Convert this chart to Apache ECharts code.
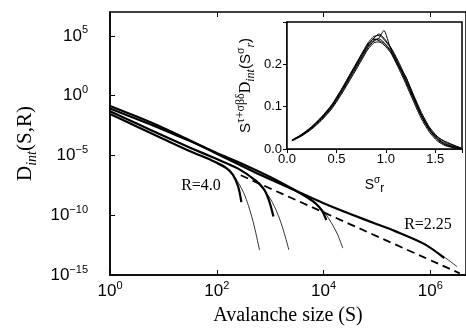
<!DOCTYPE html>
<html><head><meta charset="utf-8">
<script src="https://cdn.jsdelivr.net/npm/echarts@6/dist/echarts.min.js"></script>
<style>html,body{margin:0;padding:0;background:#fff}#c{width:466px;height:331px}</style>
</head><body><div id="c"></div>
<script>
// ---- main plot: values, as log10 exponents ----
// R = 4.0 (data, thick) and its scaling fit (thin)
const r40_logS = [0, 0.5, 1, 1.5, 1.9, 2.15, 2.3, 2.4, 2.46];
const r40_logD = [-1.53, -2.58, -3.62, -4.65, -5.4, -5.95, -6.6, -7.6, -8.9];
const r40fit_logS = [2.0, 2.2, 2.35, 2.5, 2.6, 2.7, 2.8];
const r40fit_logD = [-5.7, -6.2, -6.9, -8.1, -9.3, -10.9, -12.9];
// R = 3.2
const r32_logS = [0, 0.5, 1, 1.5, 2, 2.4, 2.73, 2.88, 2.98, 3.06];
const r32_logD = [-1.31, -2.33, -3.35, -4.35, -5.3, -6.1, -7.1, -7.8, -8.8, -10.1];
const r32fit_logS = [2.6, 2.8, 3.0, 3.15, 3.25, 3.35];
const r32fit_logD = [-6.7, -7.5, -8.6, -10.0, -11.3, -12.9];
// R = 2.6
const r26_logS = [0, 0.5, 1, 1.5, 2, 2.5, 3, 3.5, 3.85, 3.98, 4.05];
const r26_logD = [-1.08, -1.95, -2.85, -3.8, -4.8, -5.75, -6.8, -8.0, -9.0, -9.7, -10.4];
const r26fit_logS = [3.7, 3.95, 4.1, 4.25, 4.36];
const r26fit_logD = [-8.5, -9.4, -10.3, -11.5, -12.75];
// R = 2.25
const r225_logS = [0, 0.5, 1, 1.5, 2, 2.5, 3, 3.5, 4, 4.5, 5, 5.34, 5.89, 6.26];
const r225_logD = [-0.86, -1.75, -2.7, -3.75, -4.85, -5.95, -7.0, -8.0, -9.0, -9.9, -10.75, -11.33, -12.42, -13.58];
const r225fit_logS = [5.89, 6.2, 6.5];
const r225fit_logD = [-12.42, -13.3, -14.3];
// power law (dashed)
const power_logS = [2.45, 6.55];
const power_logD = [-6.66, -14.86];

// ---- inset: scaling collapse ----
const insetX = [0.05, 0.15, 0.25, 0.35, 0.45, 0.55, 0.65, 0.75, 0.82, 0.88, 0.93, 0.98, 1.05, 1.12, 1.2, 1.28, 1.36, 1.44, 1.52, 1.6, 1.7, 1.76];
const insetY1 = [0.020, 0.033, 0.050, 0.072, 0.099, 0.135, 0.175, 0.215, 0.243, 0.258, 0.260, 0.252, 0.232, 0.200, 0.160, 0.117, 0.076, 0.044, 0.022, 0.010, 0.003, 0.001];
const insetY2 = [0.021, 0.035, 0.053, 0.076, 0.104, 0.141, 0.182, 0.223, 0.251, 0.266, 0.268, 0.259, 0.238, 0.206, 0.166, 0.123, 0.082, 0.049, 0.026, 0.013, 0.005, 0.002];
const insetY3 = [0.019, 0.031, 0.047, 0.068, 0.094, 0.129, 0.168, 0.208, 0.236, 0.251, 0.253, 0.246, 0.227, 0.195, 0.155, 0.112, 0.071, 0.040, 0.019, 0.008, 0.002, 0.000];
const insetY4 = [0.020, 0.034, 0.051, 0.074, 0.101, 0.138, 0.178, 0.219, 0.248, 0.262, 0.272, 0.262, 0.240, 0.210, 0.170, 0.128, 0.086, 0.052, 0.030, 0.016, 0.007, 0.003];
const insetY5 = [0.020, 0.032, 0.049, 0.070, 0.097, 0.132, 0.172, 0.212, 0.240, 0.255, 0.262, 0.280, 0.235, 0.203, 0.162, 0.120, 0.079, 0.046, 0.024, 0.011, 0.004, 0.001];
const insetY6 = [0.021, 0.034, 0.052, 0.075, 0.102, 0.139, 0.180, 0.220, 0.246, 0.260, 0.256, 0.250, 0.230, 0.198, 0.172, 0.125, 0.080, 0.047, 0.028, 0.018, 0.008, 0.002];

function pts(ls, ld) { return ls.map((s, i) => [Math.pow(10, s), Math.pow(10, ld[i])]); }
function ipts(ys) { return insetX.map((x, i) => [x, ys[i]]); }

const sans = 'Liberation Sans';
const serif = 'Liberation Serif';

function powLabel(v) {
  const e = Math.round(Math.log10(v));
  const s = e < 0 ? '\u2212' + Math.abs(e) : String(e);
  return '{b|10}{s|' + s + '}';
}
const powRich = {
  b: { fontFamily: sans, fontSize: 17, lineHeight: 22, color: '#000' },
  s: { fontFamily: sans, fontSize: 11, lineHeight: 11, verticalAlign: 'top', color: '#000' }
};

const chart = echarts.init(document.getElementById('c'), null, { renderer: 'canvas' });

const thick = { color: '#000', width: 2.2 };
const thin = { color: '#000', width: 0.8 };
function line(name, data, style, xi, yi) {
  return { name, type: 'line', data, xAxisIndex: xi || 0, yAxisIndex: yi || 0, showSymbol: false, symbol: 'none', lineStyle: style, smooth: 0.3, animation: false, z: 3 };
}

const option = {
  backgroundColor: '#fff',
  animation: false,
  grid: [
    { left: 110, top: 12, right: -6, bottom: 54, show: true, borderColor: '#000', borderWidth: 1.5, backgroundColor: 'transparent' },
    { left: 287, top: 22, right: 4, bottom: 182, show: true, borderColor: '#000', borderWidth: 1.5, backgroundColor: '#fff', z: 5 }
  ],
  xAxis: [
    { gridIndex: 0, type: 'log', logBase: 100, min: 1, max: Math.pow(10, 6.667), position: 'bottom',
      axisLine: { lineStyle: { color: '#000', width: 1.5 } },
      axisTick: { inside: true, length: 5, lineStyle: { color: '#000', width: 1 } },
      minorTick: { show: false }, splitLine: { show: false },
      axisLabel: { formatter: powLabel, rich: powRich, margin: 5, showMaxLabel: false },
      name: 'Avalanche size (S)', nameLocation: 'middle', nameGap: 31,
      nameTextStyle: { fontFamily: serif, fontSize: 20, color: '#000' } },
    { gridIndex: 0, type: 'log', logBase: 100, min: 1, max: Math.pow(10, 6.667), position: 'top',
      axisLine: { show: false },
      axisTick: { inside: true, length: 5, lineStyle: { color: '#000', width: 1 } },
      axisLabel: { show: false }, splitLine: { show: false } },
    { gridIndex: 1, type: 'value', min: 0, max: 1.77, interval: 0.5, position: 'bottom',
      axisLine: { lineStyle: { color: '#000', width: 1.5 } },
      axisTick: { inside: true, length: 4, lineStyle: { color: '#000', width: 1 } },
      splitLine: { show: false },
      axisLabel: { formatter: v => v.toFixed(1), fontFamily: sans, fontSize: 13, color: '#000', margin: 4, showMaxLabel: false },
      name: '{s|S}{sup|\u03c3}{sub|r}', nameLocation: 'middle', nameGap: 26,
      nameTextStyle: { rich: {
        s: { fontFamily: sans, fontSize: 14, lineHeight: 20, color: '#000' },
        sup: { fontFamily: sans, fontSize: 10, lineHeight: 10, verticalAlign: 'top', color: '#000' },
        sub: { fontFamily: sans, fontSize: 12, lineHeight: 12, verticalAlign: 'bottom', color: '#000' } } } },
    { gridIndex: 1, type: 'value', min: 0, max: 1.77, interval: 0.5, position: 'top',
      axisLine: { show: false }, axisTick: { inside: true, length: 4, lineStyle: { color: '#000' } },
      axisLabel: { show: false }, splitLine: { show: false } }
  ],
  yAxis: [
    { gridIndex: 0, type: 'log', logBase: 100000, min: 1e-15, max: 1e7, position: 'left',
      axisLine: { lineStyle: { color: '#000', width: 1.5 } },
      axisTick: { inside: true, length: 5, lineStyle: { color: '#000', width: 1 } },
      minorTick: { show: false }, splitLine: { show: false },
      axisLabel: { formatter: powLabel, rich: powRich, margin: 22, showMaxLabel: false },
      name: '{d|D}{sub|int}{d|(S,R)}', nameLocation: 'middle', nameGap: 68, nameRotate: 90,
      nameTextStyle: { rich: {
        d: { fontFamily: serif, fontSize: 21, lineHeight: 28, color: '#000' },
        sub: { fontFamily: serif, fontStyle: 'italic', fontSize: 14, lineHeight: 14, verticalAlign: 'bottom', color: '#000' } } } },
    { gridIndex: 1, type: 'value', min: 0, max: 0.3, interval: 0.1, position: 'left',
      axisLine: { lineStyle: { color: '#000', width: 1.5 } },
      axisTick: { inside: true, length: 4, lineStyle: { color: '#000', width: 1 } },
      splitLine: { show: false },
      axisLabel: { formatter: v => v.toFixed(1), fontFamily: sans, fontSize: 13, color: '#000', margin: 5, showMaxLabel: false },
      name: '{s|S}{sup|\u03c4+\u03c3\u03b2\u03b4}{d|D}{sub|int}{s|(S}{sup|\u03c3}{sub|r}{s|)}', nameLocation: 'middle', nameGap: 30, nameRotate: 90,
      nameTextStyle: { rich: {
        s: { fontFamily: sans, fontSize: 15, lineHeight: 22, color: '#000' },
        d: { fontFamily: serif, fontSize: 16, lineHeight: 22, color: '#000' },
        sup: { fontFamily: serif, fontSize: 12, lineHeight: 12, verticalAlign: 'top', color: '#000' },
        sub: { fontFamily: serif, fontStyle: 'italic', fontSize: 12, lineHeight: 12, verticalAlign: 'bottom', color: '#000' } } } },
    { gridIndex: 1, type: 'value', min: 0, max: 0.3, interval: 0.1, position: 'right',
      axisLine: { show: false }, axisTick: { inside: true, length: 4, lineStyle: { color: '#000' } },
      axisLabel: { show: false }, splitLine: { show: false } }
  ],
  graphic: [
    { type: 'text', x: 201, y: 186, style: { text: 'R=4.0', font: '16px "Liberation Serif"', fill: '#000', align: 'center', verticalAlign: 'middle' } },
    { type: 'text', x: 428, y: 225, style: { text: 'R=2.25', font: '16px "Liberation Serif"', fill: '#000', align: 'center', verticalAlign: 'middle' } }
  ],
  series: [
    line('power', pts(power_logS, power_logD), { color: '#000', width: 1.8, type: [8, 5] }),
    line('R=4.0', pts(r40_logS, r40_logD), thick),
    line('R=4.0 fit', pts(r40fit_logS, r40fit_logD), thin),
    line('R=3.2', pts(r32_logS, r32_logD), thick),
    line('R=3.2 fit', pts(r32fit_logS, r32fit_logD), thin),
    line('R=2.6', pts(r26_logS, r26_logD), thick),
    line('R=2.6 fit', pts(r26fit_logS, r26fit_logD), thin),
    line('R=2.25', pts(r225_logS, r225_logD), thick),
    line('R=2.25 fit', pts(r225fit_logS, r225fit_logD), thin),
    ...[insetY1, insetY2, insetY3, insetY4, insetY5, insetY6].map((ys, k) =>
      Object.assign(line('collapse' + k, ipts(ys), { color: '#000', width: 1 }, 2, 1), { z: 6, smooth: 0.2 }))
  ]
};
chart.setOption(option);
</script>
</body></html>
